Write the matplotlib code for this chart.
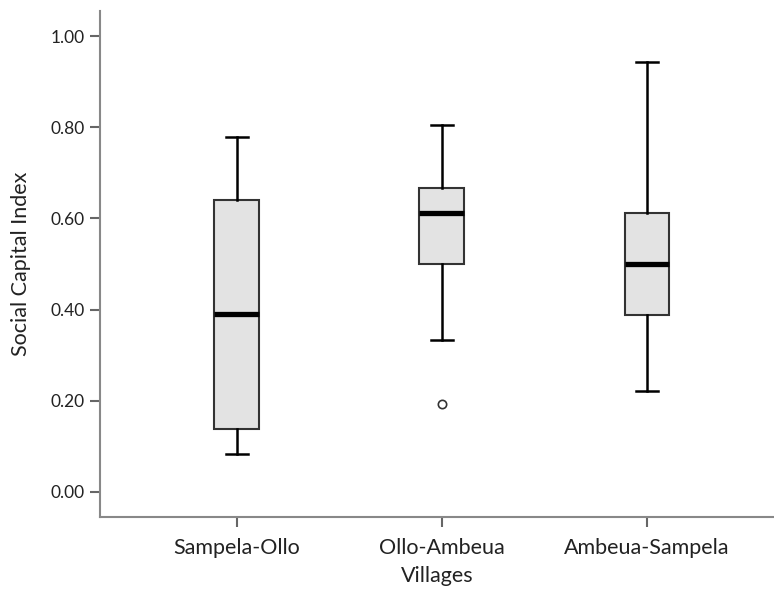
#importing modules
import matplotlib
matplotlib.use('Agg')
from matplotlib import pyplot as plt

#box plot values
villages = ['Sampela-Ollo', 'Ollo-Ambeua', 'Ambeua-Sampela']
whislo = [0.083, 0.333, 0.222]
q1 = [0.139, 0.499, 0.389]
med = [0.390, 0.611, 0.500]
q3 = [0.640, 0.666, 0.611]
whishi = [0.778, 0.805, 0.943]
fliers = [[], [0.194], []]
yticks = [0.0, 0.2, 0.4, 0.6, 0.8, 1.0]

plt.rcParams['font.family'] = ['Lato', 'DejaVu Sans']

stats = []
for i in range(len(villages)):
    stats.append(dict(label=villages[i], whislo=whislo[i], q1=q1[i], med=med[i],
                      q3=q3[i], whishi=whishi[i], fliers=fliers[i]))

#sizing the plot
fig = plt.figure(figsize=(7.74, 5.89), dpi=100)
ax = fig.add_axes([0.1292, 0.1222, 0.8708, 0.8591])

ax.bxp(stats, positions=[1, 2, 3], widths=0.218, patch_artist=True,
       boxprops=dict(facecolor='#e3e3e3', edgecolor='#333333', linewidth=1.5),
       medianprops=dict(color='black', linewidth=3.8, solid_capstyle='butt'),
       whiskerprops=dict(color='black', linewidth=1.8),
       capprops=dict(color='black', linewidth=1.8),
       capwidths=0.107,
       flierprops=dict(marker='o', markersize=6, markerfacecolor='white',
                       markeredgecolor='#333333', markeredgewidth=1.2))

#axis limits and ticks
ax.set_xlim(0.333, 3.62)
ax.set_ylim(-0.055, 1.055)
ax.set_yticks(yticks)
ax.set_yticklabels(['%.2f' % v for v in yticks])
ax.tick_params(axis='both', length=7, width=1.5, color='#666666',
               labelcolor='#222222')
ax.tick_params(axis='y', labelsize=12.5, pad=4)
ax.tick_params(axis='x', labelsize=15.5, pad=8)

for s in ['top', 'right']:
    ax.spines[s].set_visible(False)
for s in ['left', 'bottom']:
    ax.spines[s].set_color('#888888')
    ax.spines[s].set_linewidth(1.5)

#Axis Labels
ax.set_xlabel('Villages', fontsize=15.5, color='#222222', labelpad=6)
ax.set_ylabel('Social Capital Index', fontsize=15.5, color='#222222', labelpad=14)

#Saving the graph
fig.savefig('out.png', dpi=100)
